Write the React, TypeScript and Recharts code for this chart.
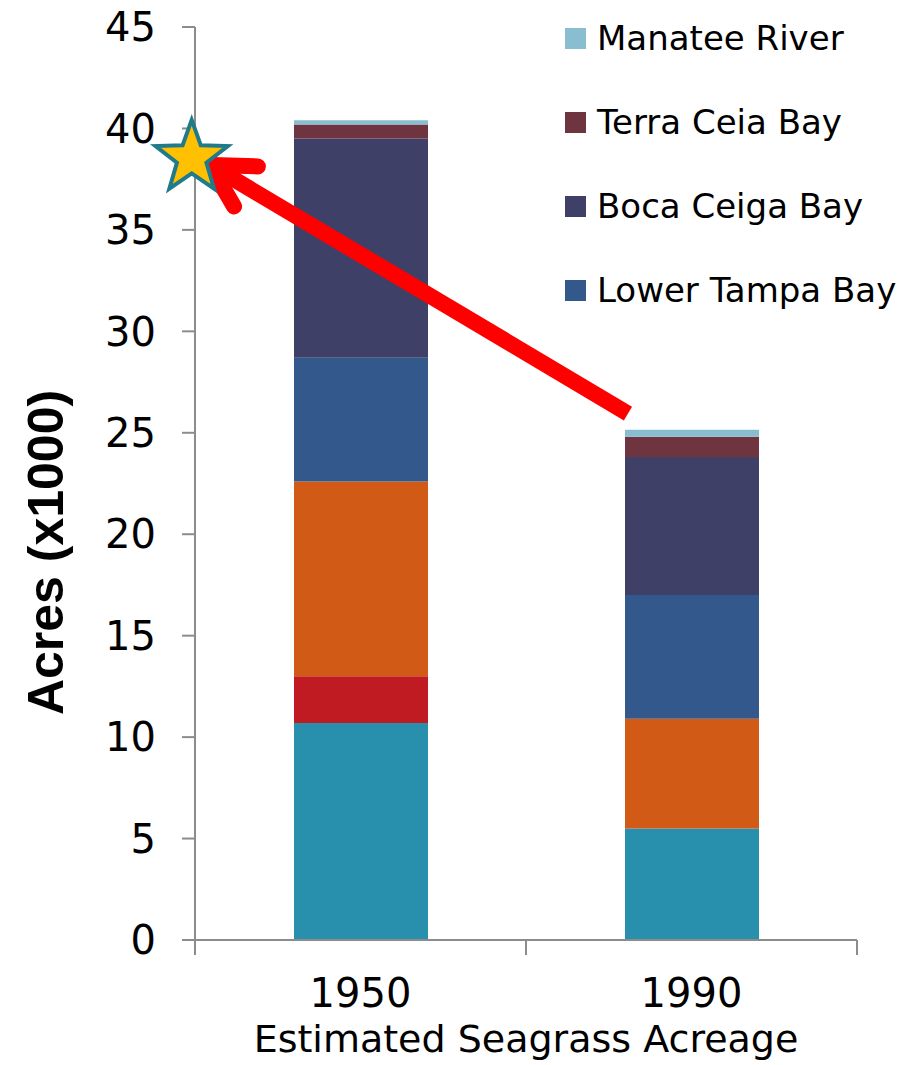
import { BarChart, Bar, XAxis, YAxis, Legend, ReferenceLine, ReferenceDot } from 'recharts'

const YEARS = ['1950', '1990']
const OLD_TAMPA_BAY = [10.7, 5.5]
const HILLSBOROUGH_BAY = [2.3, 0]
const MIDDLE_TAMPA_BAY = [9.6, 5.4]
const LOWER_TAMPA_BAY = [6.1, 6.1]
const BOCA_CEIGA_BAY = [10.8, 6.8]
const TERRA_CEIA_BAY = [0.7, 1.0]
const MANATEE_RIVER = [0.2, 0.35]
const Y_TICKS = [0, 5, 10, 15, 20, 25, 30, 35, 40, 45]

const SERIES = [
    { key: 'oldTampa', name: 'Old Tampa Bay', values: OLD_TAMPA_BAY, color: '#2890AD' },
    { key: 'hillsborough', name: 'Hillsborough Bay', values: HILLSBOROUGH_BAY, color: '#C01B23' },
    { key: 'middleTampa', name: 'Middle Tampa Bay', values: MIDDLE_TAMPA_BAY, color: '#D05A16' },
    { key: 'lowerTampa', name: 'Lower Tampa Bay', values: LOWER_TAMPA_BAY, color: '#33598C' },
    { key: 'bocaCeiga', name: 'Boca Ceiga Bay', values: BOCA_CEIGA_BAY, color: '#3F4068' },
    { key: 'terraCeia', name: 'Terra Ceia Bay', values: TERRA_CEIA_BAY, color: '#6E3541' },
    { key: 'manatee', name: 'Manatee River', values: MANATEE_RIVER, color: '#88BED0' },
]

// only the top four show in the legend, top to bottom
const LEGEND_KEYS = ['manatee', 'terraCeia', 'bocaCeiga', 'lowerTampa']

// arrow from the 1990 total back to the 1950-ish level, star at the axis
// x is on the helper axis: 0 = left edge, 1 = right edge of the plot
const ARROW_FROM = { x: 0.654, y: 25.95 }
const ARROW_TO = { x: 0.0225, y: 38.2 }
const STAR_AT = { x: -0.005, y: 38.55 }

const rows = YEARS.map((year, i) => {
    const row: any = { year }
    SERIES.forEach(s => { row[s.key] = s.values[i] })
    return row
})

const FONT = '"DejaVu Sans", sans-serif'
const AXIS_GRAY = '#8C8C8C'

function Star({ cx, cy }: any) {
    const outer = 38
    const inner = 15.5
    const pts: string[] = []
    for (let i = 0; i < 10; i++) {
        const r = i % 2 === 0 ? outer : inner
        const a = -Math.PI / 2 + (i * Math.PI) / 5
        pts.push(`${cx + r * Math.cos(a)},${cy + r * Math.sin(a)}`)
    }
    return <polygon points={pts.join(' ')} fill="#FFC000" stroke="#1F7A8C" strokeWidth={4} />
}

function Arrow({ x1, y1, x2, y2 }: any) {
    // x1,y1 = start (1990 side), x2,y2 = tip
    const ang = Math.atan2(y1 - y2, x1 - x2)
    const len = 48
    const spread = (29 * Math.PI) / 180
    const a1 = { x: x2 + len * Math.cos(ang - spread), y: y2 + len * Math.sin(ang - spread) }
    const a2 = { x: x2 + len * Math.cos(ang + spread), y: y2 + len * Math.sin(ang + spread) }
    return (
        <g>
            <line x1={x1} y1={y1} x2={x2} y2={y2} stroke="#FF0000" strokeWidth={16} />
            <polyline
                points={`${a1.x},${a1.y} ${x2},${y2} ${a2.x},${a2.y}`}
                fill="none"
                stroke="#FF0000"
                strokeWidth={16}
                strokeLinecap="round"
            />
        </g>
    )
}

function LegendBox() {
    return (
        <div style={{ fontFamily: FONT, fontSize: 34, color: '#000' }}>
            {LEGEND_KEYS.map(k => {
                const s = SERIES.find(x => x.key === k)!
                return (
                    <div key={k} style={{ height: 84, display: 'flex', alignItems: 'center', whiteSpace: 'nowrap' }}>
                        <span style={{ width: 21, height: 21, background: s.color, marginRight: 11, display: 'inline-block' }} />
                        <span>{s.name}</span>
                    </div>
                )
            })}
        </div>
    )
}

function YTitle({ viewBox }: any) {
    const x = 46
    const y = viewBox.y + viewBox.height / 2 + 69
    return (
        <text
            x={x}
            y={y}
            transform={`rotate(-90, ${x}, ${y})`}
            textAnchor="middle"
            dominantBaseline="central"
            style={{ fontFamily: '"Liberation Sans", Arial, sans-serif', fontWeight: 'bold', fontSize: 50, fill: '#000' }}
        >
            Acres (x1000)
        </text>
    )
}

export default function App() {
    return (
        <div style={{ position: 'absolute', left: 0, top: 0, width: 913, height: 1065, background: '#fff' }}>
            <BarChart
                width={913}
                height={1065}
                data={rows}
                margin={{ top: 27, right: 56, left: 0, bottom: 0 }}
                barSize={134}
            >
                <YAxis
                    width={195}
                    domain={[0, 45]}
                    ticks={Y_TICKS}
                    interval={0}
                    tickSize={13}
                    tickMargin={26}
                    stroke={AXIS_GRAY}
                    strokeWidth={2}
                    tick={{ fill: '#000', fontSize: 40, fontFamily: FONT }}
                    label={<YTitle />}
                />
                <XAxis
                    xAxisId="axisA"
                    type="number"
                    domain={[0, 1]}
                    allowDataOverflow
                    ticks={[0, 0.5, 1]}
                    interval={0}
                    height={15}
                    tickSize={15}
                    tickFormatter={() => ''}
                    stroke={AXIS_GRAY}
                    strokeWidth={2}
                />
                <XAxis
                    xAxisId="axisB"
                    dataKey="year"
                    height={110}
                    axisLine={false}
                    tickLine={false}
                    tickSize={0}
                    tickMargin={24}
                    tick={{ fill: '#000', fontSize: 40, fontFamily: FONT }}
                    label={{
                        value: 'Estimated Seagrass Acreage',
                        position: 'insideBottom',
                        offset: 13,
                        style: { fill: '#000', fontSize: 38, fontFamily: FONT },
                    }}
                />
                {SERIES.map(s => (
                    <Bar
                        key={s.key}
                        xAxisId="axisB"
                        dataKey={s.key}
                        name={s.name}
                        stackId="acres"
                        fill={s.color}
                        isAnimationActive={false}
                    />
                ))}
                <ReferenceDot
                    xAxisId="axisA"
                    x={STAR_AT.x}
                    y={STAR_AT.y}
                    ifOverflow="visible"
                    shape={(p: any) => <Star {...p} />}
                />
                <ReferenceLine
                    xAxisId="axisA"
                    segment={[ARROW_FROM, ARROW_TO]}
                    ifOverflow="visible"
                    shape={(p: any) => <Arrow {...p} />}
                />
                <Legend
                    layout="vertical"
                    align="center"
                    verticalAlign="middle"
                    content={() => <LegendBox />}
                    wrapperStyle={{ position: 'absolute', top: -4, left: 565, width: 340 }}
                />
            </BarChart>
        </div>
    )
}
